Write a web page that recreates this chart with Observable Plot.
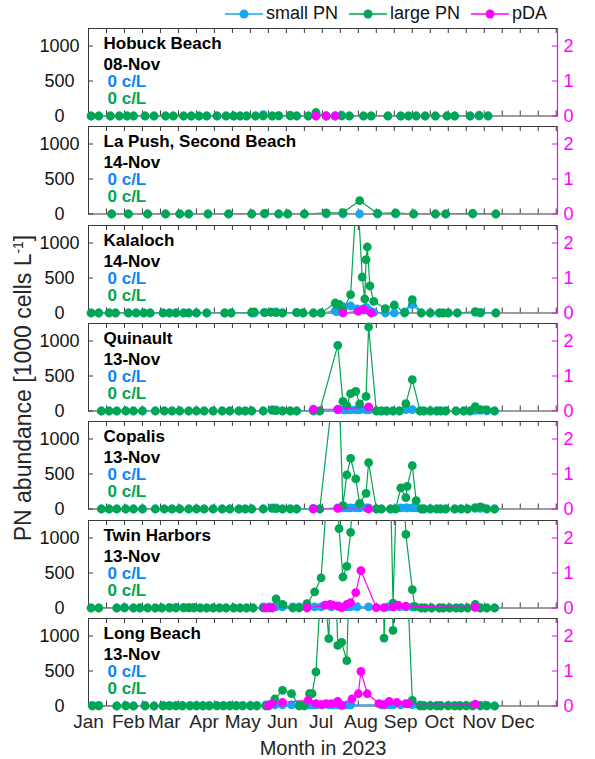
<!DOCTYPE html>
<html><head><meta charset="utf-8">
<script src="https://cdn.jsdelivr.net/npm/d3@7"></script>
<script src="https://cdn.jsdelivr.net/npm/@observablehq/plot@0.6"></script>
<style>
body{margin:0;background:#fff;font-family:"Liberation Sans",Arial,sans-serif;}
#wrap{position:relative;width:595px;height:759px;overflow:hidden;background:#fff;}
.panel{position:absolute;left:0;}
#legend{position:absolute;left:225px;top:3px;display:flex;align-items:center;font-size:18px;color:#111;}
#legend .item{display:flex;align-items:center;margin-right:11px;}
#legend svg{margin-right:3px;}
</style></head><body><div id="wrap"><div id="legend"></div></div>
<script>
// ---------- DATA ----------
const monthLabels = ["Jan","Feb","Mar","Apr","May","Jun","Jul","Aug","Sep","Oct","Nov","Dec"];
const leftTicks = [0, 500, 1000];
const rightTicks = [0, 1, 2];

const hobuckDates = ["01-03","01-09","01-18","01-25","01-31","02-05","02-14","02-21","03-02","03-08","03-16","03-22","03-28","04-03","04-11","04-18","04-24","04-29","05-04","05-11","05-17","05-24","05-29","06-07","06-12","06-21","06-27","07-05","07-12","07-17","07-23","08-03","08-09","08-22","09-01","09-07","09-13","09-20","09-28","10-07","10-13","10-25","11-01","11-08"];
const hobuckSmall = [0,0,0,0,0,0,0,0,0,0, 0,0,0,0,0,0,0,0,0,0, 20,0,0,12,0,0,0,0,0,12, 0,0,0,0,0,0,0,0,0,0, 0,0,12,0];
const hobuckLarge = [0,0,0,0,0,0,0,0,0,0, 0,0,0,0,0,0,0,0,0,0, 0,0,5,0,0,0,50,0,0,0, 0,0,0,0,0,0,0,0,0,0, 0,0,0,0];
const hobuckPdaDates = ["06-27","07-05","07-12"];
const hobuckPda = [0,0,0];

const lapushDates = ["01-19","02-01","02-16","03-02","03-13","03-20","04-04","04-20","05-08","05-18","05-29","06-05","06-18","07-05","07-18","07-31","08-14","08-28","09-11","09-28","10-06","10-27","11-14"];
const lapushSmall = [0,0,0,0,0,0,0,0,0,0,0,0,0,0,0,0,0,0,0,0,0,0,0];
const lapushLarge = [0,0,0,0,0,0,0,0,0,10,0,0,0,15,20,190,8,15,0,0,0,10,0];
const lapushPdaDates = [];
const lapushPda = [];

const kalalochDates = ["01-03","01-09","01-17","01-22","02-01","02-07","02-13","02-18","02-28","03-05","03-10","03-16","03-20","03-26","04-03","04-17","04-22","05-08","05-10","05-18","05-23","05-27","06-01","06-12","06-17","06-25","07-01","07-12","07-13","07-15","07-18","07-24","07-29","08-02","08-04","08-05","08-06","08-08","08-11","08-20","08-27","09-04","09-10","09-17","09-24","10-01","10-04","10-08","10-15","10-29","11-02","11-14"];
const kalalochSmall = [0,0,0,0,0,0,0,0,0,0, 0,0,0,0,0,0,0,0,0,10, 15,15,0,10,0,0,0,30,20,60, 90,100,60,50,40,80,60,30,10,0, 0,15,120,0,0,0,0,0,0,10, 10,0];
const kalalochLarge = [0,0,0,0,0,0,0,0,0,0, 0,0,0,0,0,0,0,10,15,5, 10,5,0,5,0,0,0,143,124,124, 40,262,1840,514,200,762,943,386,167,62, 114,0,190,0,0,0,0,0,0,20, 0,0];
const kalalochPdaDates = ["07-18","07-30","08-03","08-09"];
const kalalochPda = [0,0.05,0.1,0];

const quinaultDates = ["01-11","01-17","01-23","01-30","02-05","02-12","02-22","03-01","03-07","03-13","03-20","03-26","04-01","04-08","04-15","04-21","04-28","05-03","05-08","05-17","05-24","05-27","06-01","06-07","06-12","06-25","06-30","07-14","07-18","07-21","07-24","07-28","07-31","08-05","08-07","08-13","08-17","08-21","08-26","08-31","09-05","09-10","09-16","09-19","09-24","09-29","10-02","10-06","10-14","10-20","10-25","10-29","11-02","11-07","11-13"];
const quinaultSmall = [0,0,0,0,0,0,0,0,0,0, 0,0,0,0,0,0,0,0,0,0, 20,15,0,0,0,10,0, 15,15,15,15,15,15,15,15, 0,0,0,0,0,20,20, 0,0,0,0,0,0,0,0,0,10,10,0,0];
const quinaultLarge = [0,0,0,0,0,0,0,0,0,0, 0,0,0,0,0,0,0,0,0,0, 10,5,0,0,0,0,0, 938,138,76,248,281,100,210,1200, 0,0,0,0,0,105,447, 0,0,0,0,0,0,0,0,0,62,20,15,0];
const quinaultPdaDates = ["06-25","07-14","08-07"];
const quinaultPda = [0.05,0.05,0.12];

const copalisDates = ["01-11","01-17","01-23","01-30","02-05","02-12","02-22","03-01","03-07","03-13","03-20","03-26","04-01","04-08","04-15","04-21","04-28","05-03","05-08","05-17","05-24","05-27","06-01","06-07","06-12","06-25","06-30","07-14","07-18","07-21","07-24","07-28","07-31","08-05","08-07","08-13","08-17","08-24","08-28","09-01","09-05","09-06","09-10","09-13","09-17","09-19","09-24","09-29","10-02","10-06","10-13","10-18","10-23","10-29","11-02","11-07","11-13"];
const copalisSmall = [0,0,0,0,0,0,0,0,0,0, 0,0,0,0,0,0,0,0,0,0, 15,15,0,0,0, 10,0, 15,15,15,15,15,15,15,15, 0,0,0,0, 15,15,15,15,15, 0,0,0,0,0,0,0,0,0, 10,10,0,0];
const copalisLarge = [0,0,0,0,0,0,0,0,0,0, 0,0,0,0,0,0,0,0,0,0, 10,5,0,0,0, 0,0, 2270,48,486,724,429,81,224,662, 0,0,0,0, 300,162,324,619,119, 0,0,0,0,0,0,0,0,0, 20,30,0,0];
const copalisPdaDates = ["06-25","07-14","08-07"];
const copalisPda = [0,0.02,0];

const twinDates = ["01-03","01-09","01-23","01-29","02-05","02-10","02-16","02-22","02-27","03-05","03-10","03-16","03-20","03-24","03-29","04-03","04-08","04-13","04-18","04-24","04-29","05-04","05-09","05-17","05-22","05-27","06-01","06-09","06-14","06-20","06-26","07-01","07-09","07-15","07-18","07-21","07-24","07-29","08-07","08-22","08-26","08-31","09-05","09-10","09-12","09-17","09-20","09-25","10-01","10-04","10-09","10-14","10-18","10-23","10-29","11-02","11-07","11-13"];
const twinSmall = [0,0,0,10,0,0,0,0,0,10, 10,10,10,10,0,0,0,0,0,0, 0,0,0,15,15,15,15,15,15,15, 15,15,15,15,15,15,15,15,15,15, 15,15,15,15,15,0,0,0,0,0, 0,0,0,0,10,0,0,0];
const twinLarge = [0,0,0,0,0,0,0,0,0,0, 0,0,0,0,0,0,0,0,0,0, 0,0,0,0,0,130,52,0,0,62, 229,429,2500,1133,443,595,1081,2600,2800,3500, 71,3000,1052,262,20,0,0,0,0,0, 0,0,0,0,52,0,0,0];
const twinPdaDates = ["05-19","05-24","06-20","07-04","07-08","07-10","07-14","07-17","07-21","07-24","07-28","08-01","08-13","08-19","08-26","08-30","09-05","10-29"];
const twinPda = [0,0,0,0.08,0.1,0.08,0.06,0.01,0.1,0.15,0.44,1.07,0.01,0.01,0.03,0.08,0.05,0.02];

const longDates = ["01-04","01-09","01-23","01-30","02-05","02-14","02-21","02-28","03-05","03-10","03-15","03-21","03-26","03-31","04-05","04-11","04-16","04-21","04-26","05-01","05-07","05-12","05-19","05-21","05-26","06-01","06-08","06-14","06-18","06-22","06-24","06-27","07-02","07-07","07-10","07-14","07-17","07-21","07-24","08-17","08-19","08-23","08-26","09-01","09-10","09-16","09-19","09-24","09-29","10-02","10-08","10-13","10-17","10-22","10-27","11-02","11-07","11-13"];
const longSmall = [10,10,0,10,0,10,0,10,10,10, 10,10,10,10,10,10,10,10,10,10, 10,10,15,15,15,15,15,15,15,15, 15,15,15,15,15,15,15,15,15,15, 15,15,15,15,15,15,10,10,10,10, 10,10,10,10,10,10,10,0];
const longLarge = [0,0,0,0,0,0,0,0,0,0, 0,0,0,0,0,0,0,0,0,0, 0,0,0,0,100,224,176,0,0,176, 176,486,2060,962,3000,866,909,647,2500,4000, 971,3000,1081,4000,81,0,0,0,0,0, 0,0,0,0,0,0,0,0];
const longPdaDates = ["05-21","05-24","06-01","06-21","06-27","07-01","07-05","07-09","07-13","07-14","07-17","07-25","07-30","08-01","08-06","08-15","08-19","08-23","08-29","09-05","09-07","10-29"];
const longPda = [0.01,0.07,0.1,0.16,0.07,0.04,0.07,0.07,0.09,0.13,0.02,0.2,0.35,0.99,0.35,0.07,0.04,0.13,0.1,0.07,0.07,0.05];

const sites = [
  {name:"Hobuck Beach", last:"08-Nov", d:hobuckDates, s:hobuckSmall, l:hobuckLarge, pd:hobuckPdaDates, p:hobuckPda},
  {name:"La Push, Second Beach", last:"14-Nov", d:lapushDates, s:lapushSmall, l:lapushLarge, pd:lapushPdaDates, p:lapushPda},
  {name:"Kalaloch", last:"14-Nov", d:kalalochDates, s:kalalochSmall, l:kalalochLarge, pd:kalalochPdaDates, p:kalalochPda},
  {name:"Quinault", last:"13-Nov", d:quinaultDates, s:quinaultSmall, l:quinaultLarge, pd:quinaultPdaDates, p:quinaultPda},
  {name:"Copalis", last:"13-Nov", d:copalisDates, s:copalisSmall, l:copalisLarge, pd:copalisPdaDates, p:copalisPda},
  {name:"Twin Harbors", last:"13-Nov", d:twinDates, s:twinSmall, l:twinLarge, pd:twinPdaDates, p:twinPda},
  {name:"Long Beach", last:"13-Nov", d:longDates, s:longSmall, l:longLarge, pd:longPdaDates, p:longPda}
];
const latestSmall = ["0 c/L","0 c/L","0 c/L","0 c/L","0 c/L","0 c/L","0 c/L"];
const latestLarge = ["0 c/L","0 c/L","0 c/L","0 c/L","0 c/L","0 c/L","0 c/L"];

// ---------- STYLE ----------
const BLUE = "#16a6f2", BLUE_TXT = "#0c86f2", GREEN = "#00a651", MAG = "#ff00ff", INK = "#3a3a3a";
const W = 595, ML = 88, MR = 38, FH = 87.5, MT = 7, MB = 7, STEP = 98.33, TOP0 = 28;
const YMAX = 1250, PDA_K = 500;
const FONT = "Liberation Sans, Arial, Helvetica, sans-serif";
const pt = d => new Date(`2023-${d}T00:00:00Z`);
const xDomain = [new Date(Date.UTC(2023,0,1)), new Date(Date.UTC(2024,0,1))];
const monthTicks = monthLabels.map((m,i) => new Date(Date.UTC(2023,i,1)));
const minorTicks = d3.range(1, 27).map(i => new Date(Date.UTC(2023,0,1 + 14*i))).filter(t => t < xDomain[1]);
const plotW = W - ML - MR;

function series(dates, vals, color, k = 1) {
  const data = dates.map((d, i) => ({x: pt(d), y: vals[i] * k}));
  return [
    Plot.line(data, {x: "x", y: "y", stroke: color, strokeWidth: 1.2, clip: true}),
    Plot.dot(data.filter(d => d.y <= YMAX), {x: "x", y: "y", fill: color, r: 4.4})
  ];
}

const wrap = document.getElementById("wrap");
sites.forEach((s, i) => {
  const last = i === sites.length - 1;
  const mb = last ? 60 : MB;
  const frameTop = TOP0 + STEP * i;
  const marks = [
    Plot.frame({stroke: INK, strokeWidth: 1}),
    Plot.ruleX(minorTicks, {x: d => d, insetBottom: FH - 5, stroke: INK}),
    Plot.ruleX(minorTicks, {x: d => d, insetTop: FH - 5, stroke: INK}),
    Plot.ruleY(leftTicks, {y: d => d, insetRight: plotW - 5, stroke: INK}),
    Plot.ruleY(rightTicks.map(v => v * PDA_K), {y: d => d, insetLeft: plotW - 5, stroke: MAG}),
    Plot.ruleX([xDomain[1]], {stroke: MAG, strokeWidth: 1.2}),
    Plot.axisY({anchor: "left", ticks: leftTicks, tickSize: 0, tickPadding: 29, textAnchor: "middle", fontSize: 18, color: "#111", tickFormat: d => String(d), label: null}),
    Plot.axisY({anchor: "right", ticks: rightTicks.map(v => v * PDA_K), tickSize: 0, tickPadding: 6, fontSize: 18, color: MAG, tickFormat: d => String(d / PDA_K), label: null}),
    ...series(s.d, s.s, BLUE),
    ...series(s.d, s.l, GREEN),
    ...series(s.pd, s.p, MAG, PDA_K),
    Plot.text([s.name], {frameAnchor: "top-left", text: d => d, dx: 15, dy: 20, lineAnchor: "bottom", textAnchor: "start", fontWeight: "bold", fontSize: 17, fill: "#000"}),
    Plot.text([s.last], {frameAnchor: "top-left", text: d => d, dx: 15, dy: 41.5, lineAnchor: "bottom", textAnchor: "start", fontWeight: "bold", fontSize: 17, fill: "#000"}),
    Plot.text([latestSmall[i]], {frameAnchor: "top-left", text: d => d, dx: 19, dy: 58.5, lineAnchor: "bottom", textAnchor: "start", fontWeight: "bold", fontSize: 17, fill: BLUE_TXT}),
    Plot.text([latestLarge[i]], {frameAnchor: "top-left", text: d => d, dx: 19, dy: 75, lineAnchor: "bottom", textAnchor: "start", fontWeight: "bold", fontSize: 17, fill: GREEN})
  ];
  if (last) {
    marks.push(Plot.axisX({anchor: "bottom", ticks: monthTicks, tickFormat: d => monthLabels[d.getUTCMonth()], tickSize: 0, tickPadding: 8, fontSize: 19, color: "#262626", label: null}));
    marks.push(Plot.text(["Month in 2023"], {frameAnchor: "bottom", text: d => d, dy: 48.5, lineAnchor: "bottom", fontSize: 20, fill: "#262626"}));
  }
  const chart = Plot.plot({
    width: W, height: FH + MT + mb,
    marginLeft: ML, marginRight: MR, marginTop: MT, marginBottom: mb,
    style: {background: "transparent", fontFamily: FONT, overflow: "visible"},
    x: {type: "utc", domain: xDomain, axis: last ? undefined : null},
    y: {domain: [0, YMAX]},
    marks
  });
  const div = document.createElement("div");
  div.className = "panel";
  div.style.top = (frameTop - MT) + "px";
  div.appendChild(chart);
  wrap.appendChild(div);
});

// y-axis title
const ns = "http://www.w3.org/2000/svg";
const ysvg = document.createElementNS(ns, "svg");
ysvg.setAttribute("width", 40); ysvg.setAttribute("height", 759);
ysvg.style.position = "absolute"; ysvg.style.left = "0px"; ysvg.style.top = "0px";
ysvg.innerHTML = `<text transform="translate(31,388) rotate(-90)" text-anchor="middle" font-family="${FONT}" font-size="23" fill="#262626">PN abundance [1000 cells L<tspan dy="-8" font-size="14">-1</tspan><tspan dy="8">]</tspan></text>`;
wrap.appendChild(ysvg);

// legend
const legendItems = [["small PN", BLUE], ["large PN", GREEN], ["pDA", MAG]];
const leg = document.getElementById("legend");
legendItems.forEach(([label, color]) => {
  const it = document.createElement("div"); it.className = "item";
  it.innerHTML = `<svg width="38" height="20"><line x1="0" x2="38" y1="10" y2="10" stroke="${color}" stroke-width="1.3"/><circle cx="19" cy="10" r="4.5" fill="${color}"/></svg><span>${label}</span>`;
  leg.appendChild(it);
});
</script>
</body></html>
